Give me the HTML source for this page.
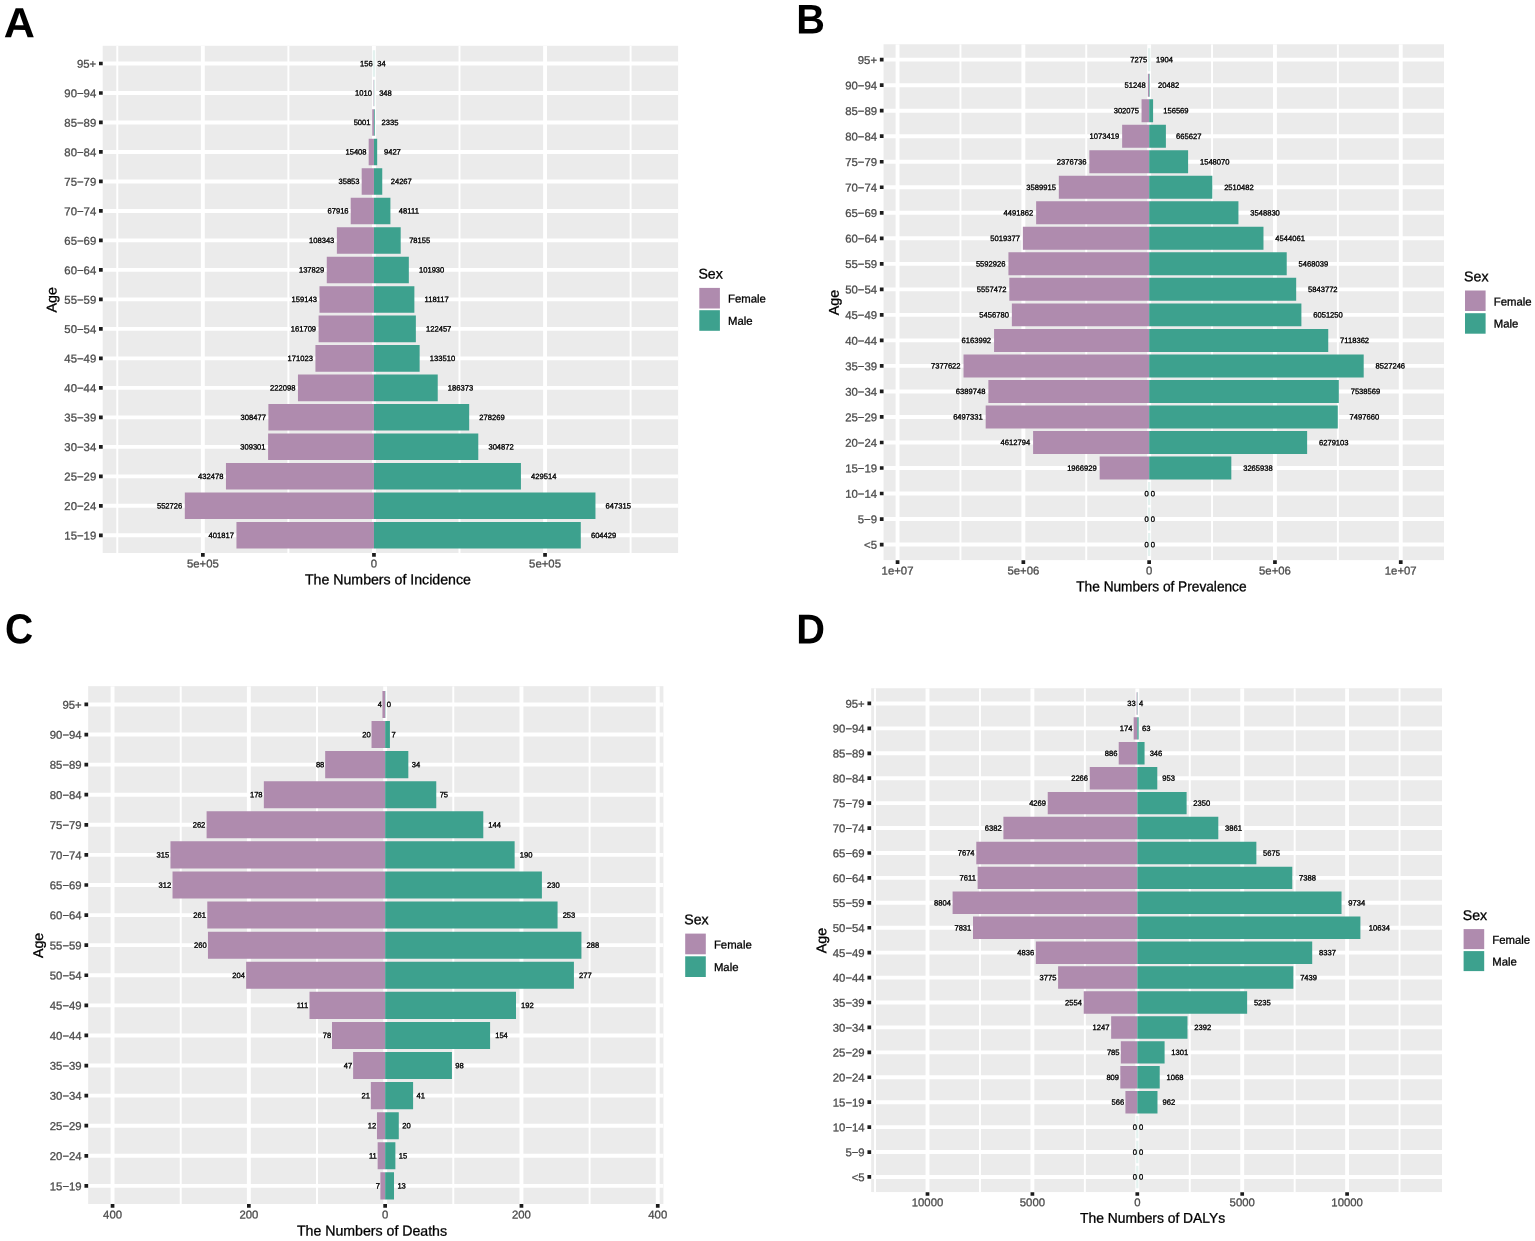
<!DOCTYPE html>
<html lang="en">
<head>
<meta charset="utf-8">
<title>Figure</title>
<style>
html,body{margin:0;padding:0;background:#fff}
body{width:1535px;height:1241px;overflow:hidden}
svg{display:block}
text{white-space:pre}
</style>
</head>
<body>
<svg width="1535" height="1241" viewBox="0 0 1535 1241" font-family="'Liberation Sans', sans-serif">
<rect width="1535" height="1241" fill="#ffffff"/>
<g id="panelA">
<clipPath id="clip0"><rect x="102.7" y="45.8" width="575.4" height="507.2"/></clipPath>
<rect x="102.7" y="45.8" width="575.4" height="507.2" fill="#EBEBEB"/>
<g clip-path="url(#clip0)">
<path d="M117.3 45.8V553M288.4 45.8V553M459.5 45.8V553M630.6 45.8V553" stroke="#fff" stroke-width="1.95" fill="none"/>
<path d="M202.85 45.8V553M373.95 45.8V553M545.05 45.8V553M102.7 63.493H678.1M102.7 92.981H678.1M102.7 122.47H678.1M102.7 151.958H678.1M102.7 181.447H678.1M102.7 210.935H678.1M102.7 240.423H678.1M102.7 269.912H678.1M102.7 299.4H678.1M102.7 328.888H678.1M102.7 358.377H678.1M102.7 387.865H678.1M102.7 417.353H678.1M102.7 446.842H678.1M102.7 476.33H678.1M102.7 505.819H678.1M102.7 535.307H678.1" stroke="#fff" stroke-width="3.9" fill="none"/>
<path d="M373.95 50.223v26.54" stroke="#3DA18E" stroke-opacity="0.14" stroke-width="2.3" fill="none"/>
<path d="M373.604 79.712h0.346v26.54h-0.346zM372.239 109.2h1.711v26.54h-1.711zM368.677 138.688h5.273v26.54h-5.273zM361.681 168.177h12.269v26.54h-12.269zM350.709 197.665h23.241v26.54h-23.241zM336.875 227.153h37.075v26.54h-37.075zM326.785 256.642h47.165v26.54h-47.165zM319.491 286.13h54.459v26.54h-54.459zM318.613 315.619h55.337v26.54h-55.337zM315.426 345.107h58.524v26.54h-58.524zM297.948 374.595h76.002v26.54h-76.002zM268.389 404.084h105.561v26.54h-105.561zM268.107 433.572h105.843v26.54h-105.843zM225.956 463.06h147.994v26.54h-147.994zM184.807 492.549h189.143v26.54h-189.143zM236.448 522.037h137.502v26.54h-137.502z" fill="#AF8BAE"/>
<path d="M373.95 79.712h0.25v26.54h-0.25zM373.95 109.2h0.799v26.54h-0.799zM373.95 138.688h3.226v26.54h-3.226zM373.95 168.177h8.304v26.54h-8.304zM373.95 197.665h16.464v26.54h-16.464zM373.95 227.153h26.745v26.54h-26.745zM373.95 256.642h34.88v26.54h-34.88zM373.95 286.13h40.42v26.54h-40.42zM373.95 315.619h41.905v26.54h-41.905zM373.95 345.107h45.687v26.54h-45.687zM373.95 374.595h63.777v26.54h-63.777zM373.95 404.084h95.224v26.54h-95.224zM373.95 433.572h104.327v26.54h-104.327zM373.95 463.06h146.98v26.54h-146.98zM373.95 492.549h221.511v26.54h-221.511zM373.95 522.037h206.836v26.54h-206.836z" fill="#3DA18E"/>
</g>
<g font-size="7.6" fill="#000" stroke="#000" stroke-width="0.35">
<text transform="translate(372.629 66.143) rotate(.03)" text-anchor="end">156</text>
<text transform="translate(377.342 66.143) rotate(.03)">34</text>
<text transform="translate(371.914 95.631) rotate(.03)" text-anchor="end">1010</text>
<text transform="translate(379.14 95.631) rotate(.03)">348</text>
<text transform="translate(370.548 125.12) rotate(.03)" text-anchor="end">5001</text>
<text transform="translate(381.51 125.12) rotate(.03)">2335</text>
<text transform="translate(366.565 154.608) rotate(.03)" text-anchor="end">15408</text>
<text transform="translate(383.937 154.608) rotate(.03)">9427</text>
<text transform="translate(359.568 184.097) rotate(.03)" text-anchor="end">35853</text>
<text transform="translate(390.705 184.097) rotate(.03)">24267</text>
<text transform="translate(348.596 213.585) rotate(.03)" text-anchor="end">67916</text>
<text transform="translate(398.865 213.585) rotate(.03)">48111</text>
<text transform="translate(334.34 243.073) rotate(.03)" text-anchor="end">108343</text>
<text transform="translate(409.146 243.073) rotate(.03)">78155</text>
<text transform="translate(324.25 272.562) rotate(.03)" text-anchor="end">137829</text>
<text transform="translate(418.972 272.562) rotate(.03)">101930</text>
<text transform="translate(316.956 302.05) rotate(.03)" text-anchor="end">159143</text>
<text transform="translate(424.511 302.05) rotate(.03)">118117</text>
<text transform="translate(316.078 331.538) rotate(.03)" text-anchor="end">161709</text>
<text transform="translate(425.996 331.538) rotate(.03)">122457</text>
<text transform="translate(312.891 361.027) rotate(.03)" text-anchor="end">171023</text>
<text transform="translate(429.779 361.027) rotate(.03)">133510</text>
<text transform="translate(295.413 390.515) rotate(.03)" text-anchor="end">222098</text>
<text transform="translate(447.868 390.515) rotate(.03)">186373</text>
<text transform="translate(265.854 420.003) rotate(.03)" text-anchor="end">308477</text>
<text transform="translate(479.315 420.003) rotate(.03)">278269</text>
<text transform="translate(265.572 449.492) rotate(.03)" text-anchor="end">309301</text>
<text transform="translate(488.419 449.492) rotate(.03)">304872</text>
<text transform="translate(223.421 478.98) rotate(.03)" text-anchor="end">432478</text>
<text transform="translate(531.071 478.98) rotate(.03)">429514</text>
<text transform="translate(182.272 508.469) rotate(.03)" text-anchor="end">552726</text>
<text transform="translate(605.603 508.469) rotate(.03)">647315</text>
<text transform="translate(233.913 537.957) rotate(.03)" text-anchor="end">401817</text>
<text transform="translate(590.927 537.957) rotate(.03)">604429</text>
</g>
<path d="M99 63.493h3.7M99 92.981h3.7M99 122.47h3.7M99 151.958h3.7M99 181.447h3.7M99 210.935h3.7M99 240.423h3.7M99 269.912h3.7M99 299.4h3.7M99 328.888h3.7M99 358.377h3.7M99 387.865h3.7M99 417.353h3.7M99 446.842h3.7M99 476.33h3.7M99 505.819h3.7M99 535.307h3.7M202.85 553.1v3.7M373.95 553.1v3.7M545.05 553.1v3.7" stroke="#1c1c1c" stroke-width="3.7" fill="none"/>
<g font-size="11.35" fill="#4D4D4D" stroke="#4D4D4D" stroke-width="0.3" text-anchor="end">
<text transform="translate(96.2 67.743) rotate(.03)">95+</text>
<text transform="translate(96.2 97.231) rotate(.03)">90−94</text>
<text transform="translate(96.2 126.72) rotate(.03)">85−89</text>
<text transform="translate(96.2 156.208) rotate(.03)">80−84</text>
<text transform="translate(96.2 185.697) rotate(.03)">75−79</text>
<text transform="translate(96.2 215.185) rotate(.03)">70−74</text>
<text transform="translate(96.2 244.673) rotate(.03)">65−69</text>
<text transform="translate(96.2 274.162) rotate(.03)">60−64</text>
<text transform="translate(96.2 303.65) rotate(.03)">55−59</text>
<text transform="translate(96.2 333.138) rotate(.03)">50−54</text>
<text transform="translate(96.2 362.627) rotate(.03)">45−49</text>
<text transform="translate(96.2 392.115) rotate(.03)">40−44</text>
<text transform="translate(96.2 421.603) rotate(.03)">35−39</text>
<text transform="translate(96.2 451.092) rotate(.03)">30−34</text>
<text transform="translate(96.2 480.58) rotate(.03)">25−29</text>
<text transform="translate(96.2 510.069) rotate(.03)">20−24</text>
<text transform="translate(96.2 539.557) rotate(.03)">15−19</text>
</g>
<g font-size="11.35" fill="#4D4D4D" stroke="#4D4D4D" stroke-width="0.3" text-anchor="middle">
<text transform="translate(202.85 567.6) rotate(.03)">5e+05</text>
<text transform="translate(373.95 567.6) rotate(.03)">0</text>
<text transform="translate(545.05 567.6) rotate(.03)">5e+05</text>
</g>
<g fill="#000" stroke="#000" stroke-width="0.3" font-size="14.15">
<text transform="translate(387.9 584.3) rotate(.03) scale(1 1)" text-anchor="middle">The Numbers of Incidence</text>
<text transform="translate(56.4 299.8) rotate(-89.97)" text-anchor="middle">Age</text>
<text transform="translate(698.4 278.5) rotate(.03)">Sex</text>
<text transform="translate(728 302.55) rotate(.03)" font-size="11.35">Female</text>
<text transform="translate(728 324.85) rotate(.03)" font-size="11.35">Male</text>
</g>
<rect x="699.3" y="287.9" width="20.6" height="20.6" fill="#AF8BAE"/>
<rect x="699.3" y="310.2" width="20.6" height="20.6" fill="#3DA18E"/>
<text transform="translate(3.87 37.26) rotate(.03) scale(1.0791 1.0516)" font-size="40" font-weight="bold" fill="#000">A</text>
</g>
<g id="panelB">
<clipPath id="clip1"><rect x="883.55" y="44.25" width="560.4" height="515.85"/></clipPath>
<rect x="883.55" y="44.25" width="560.4" height="515.85" fill="#EBEBEB"/>
<g clip-path="url(#clip1)">
<path d="M960.45 44.25V560.1M1086.25 44.25V560.1M1212.05 44.25V560.1M1337.85 44.25V560.1" stroke="#fff" stroke-width="1.95" fill="none"/>
<path d="M897.55 44.25V560.1M1023.35 44.25V560.1M1149.15 44.25V560.1M1274.95 44.25V560.1M1400.75 44.25V560.1M883.55 59.66H1443.95M883.55 85.181H1443.95M883.55 110.702H1443.95M883.55 136.223H1443.95M883.55 161.744H1443.95M883.55 187.265H1443.95M883.55 212.786H1443.95M883.55 238.307H1443.95M883.55 263.828H1443.95M883.55 289.349H1443.95M883.55 314.871H1443.95M883.55 340.392H1443.95M883.55 365.913H1443.95M883.55 391.434H1443.95M883.55 416.955H1443.95M883.55 442.476H1443.95M883.55 467.997H1443.95M883.55 493.518H1443.95M883.55 519.039H1443.95M883.55 544.56H1443.95" stroke="#fff" stroke-width="3.9" fill="none"/>
<path d="M1149.15 48.176v22.969M1149.15 482.033v22.969M1149.15 507.554v22.969M1149.15 533.076v22.969" stroke="#3DA18E" stroke-opacity="0.14" stroke-width="2.3" fill="none"/>
<path d="M1147.861 73.697h1.289v22.969h-1.289zM1141.55 99.218h7.6v22.969h-7.6zM1122.143 124.739h27.007v22.969h-27.007zM1089.351 150.26h59.799v22.969h-59.799zM1058.828 175.781h90.322v22.969h-90.322zM1036.135 201.302h113.015v22.969h-113.015zM1022.862 226.823h126.288v22.969h-126.288zM1008.432 252.344h140.718v22.969h-140.718zM1009.324 277.865h139.826v22.969h-139.826zM1011.857 303.386h137.293v22.969h-137.293zM994.064 328.907h155.086v22.969h-155.086zM963.529 354.428h185.621v22.969h-185.621zM988.384 379.949h160.766v22.969h-160.766zM985.677 405.47h163.473v22.969h-163.473zM1033.092 430.991h116.058v22.969h-116.058zM1099.662 456.512h49.488v22.969h-49.488z" fill="#AF8BAE"/>
<path d="M1149.15 73.697h0.515v22.969h-0.515zM1149.15 99.218h3.939v22.969h-3.939zM1149.15 124.739h16.747v22.969h-16.747zM1149.15 150.26h38.949v22.969h-38.949zM1149.15 175.781h63.164v22.969h-63.164zM1149.15 201.302h89.289v22.969h-89.289zM1149.15 226.823h114.329v22.969h-114.329zM1149.15 252.344h137.576v22.969h-137.576zM1149.15 277.865h147.029v22.969h-147.029zM1149.15 303.386h152.249v22.969h-152.249zM1149.15 328.907h179.098v22.969h-179.098zM1149.15 354.428h214.546v22.969h-214.546zM1149.15 379.949h189.67v22.969h-189.67zM1149.15 405.47h188.641v22.969h-188.641zM1149.15 430.991h157.982v22.969h-157.982zM1149.15 456.512h82.171v22.969h-82.171z" fill="#3DA18E"/>
</g>
<g font-size="7.6" fill="#000" stroke="#000" stroke-width="0.35">
<text transform="translate(1147.277 62.31) rotate(.03)" text-anchor="end">7275</text>
<text transform="translate(1155.959 62.31) rotate(.03)">1904</text>
<text transform="translate(1145.748 87.831) rotate(.03)" text-anchor="end">51248</text>
<text transform="translate(1158.117 87.831) rotate(.03)">20482</text>
<text transform="translate(1139.014 113.352) rotate(.03)" text-anchor="end">302075</text>
<text transform="translate(1163.231 113.352) rotate(.03)">156569</text>
<text transform="translate(1119.185 138.873) rotate(.03)" text-anchor="end">1073419</text>
<text transform="translate(1176.039 138.873) rotate(.03)">665627</text>
<text transform="translate(1086.393 164.394) rotate(.03)" text-anchor="end">2376736</text>
<text transform="translate(1199.931 164.394) rotate(.03)">1548070</text>
<text transform="translate(1055.87 189.915) rotate(.03)" text-anchor="end">3589915</text>
<text transform="translate(1224.145 189.915) rotate(.03)">2510482</text>
<text transform="translate(1033.177 215.436) rotate(.03)" text-anchor="end">4491862</text>
<text transform="translate(1250.27 215.436) rotate(.03)">3548830</text>
<text transform="translate(1019.905 240.957) rotate(.03)" text-anchor="end">5019377</text>
<text transform="translate(1275.31 240.957) rotate(.03)">4544061</text>
<text transform="translate(1005.474 266.478) rotate(.03)" text-anchor="end">5592926</text>
<text transform="translate(1298.558 266.478) rotate(.03)">5468039</text>
<text transform="translate(1006.366 291.999) rotate(.03)" text-anchor="end">5557472</text>
<text transform="translate(1308.011 291.999) rotate(.03)">5843772</text>
<text transform="translate(1008.899 317.521) rotate(.03)" text-anchor="end">5456780</text>
<text transform="translate(1313.231 317.521) rotate(.03)">6051250</text>
<text transform="translate(991.106 343.042) rotate(.03)" text-anchor="end">6163992</text>
<text transform="translate(1340.08 343.042) rotate(.03)">7118362</text>
<text transform="translate(960.571 368.563) rotate(.03)" text-anchor="end">7377622</text>
<text transform="translate(1375.527 368.563) rotate(.03)">8527246</text>
<text transform="translate(985.426 394.084) rotate(.03)" text-anchor="end">6389748</text>
<text transform="translate(1350.652 394.084) rotate(.03)">7538569</text>
<text transform="translate(982.719 419.605) rotate(.03)" text-anchor="end">6497331</text>
<text transform="translate(1349.623 419.605) rotate(.03)">7497660</text>
<text transform="translate(1030.134 445.126) rotate(.03)" text-anchor="end">4612794</text>
<text transform="translate(1318.964 445.126) rotate(.03)">6279103</text>
<text transform="translate(1096.704 470.647) rotate(.03)" text-anchor="end">1966929</text>
<text transform="translate(1243.153 470.647) rotate(.03)">3265938</text>
<text transform="translate(1148.727 496.168) rotate(.03)" text-anchor="end">0</text>
<text transform="translate(1150.84 496.168) rotate(.03)">0</text>
<text transform="translate(1148.727 521.689) rotate(.03)" text-anchor="end">0</text>
<text transform="translate(1150.84 521.689) rotate(.03)">0</text>
<text transform="translate(1148.727 547.21) rotate(.03)" text-anchor="end">0</text>
<text transform="translate(1150.84 547.21) rotate(.03)">0</text>
</g>
<path d="M879.85 59.66h3.7M879.85 85.181h3.7M879.85 110.702h3.7M879.85 136.223h3.7M879.85 161.744h3.7M879.85 187.265h3.7M879.85 212.786h3.7M879.85 238.307h3.7M879.85 263.828h3.7M879.85 289.349h3.7M879.85 314.871h3.7M879.85 340.392h3.7M879.85 365.913h3.7M879.85 391.434h3.7M879.85 416.955h3.7M879.85 442.476h3.7M879.85 467.997h3.7M879.85 493.518h3.7M879.85 519.039h3.7M879.85 544.56h3.7M897.55 560.2v3.7M1023.35 560.2v3.7M1149.15 560.2v3.7M1274.95 560.2v3.7M1400.75 560.2v3.7" stroke="#1c1c1c" stroke-width="3.7" fill="none"/>
<g font-size="11.35" fill="#4D4D4D" stroke="#4D4D4D" stroke-width="0.3" text-anchor="end">
<text transform="translate(877.05 63.91) rotate(.03)">95+</text>
<text transform="translate(877.05 89.431) rotate(.03)">90−94</text>
<text transform="translate(877.05 114.952) rotate(.03)">85−89</text>
<text transform="translate(877.05 140.473) rotate(.03)">80−84</text>
<text transform="translate(877.05 165.994) rotate(.03)">75−79</text>
<text transform="translate(877.05 191.515) rotate(.03)">70−74</text>
<text transform="translate(877.05 217.036) rotate(.03)">65−69</text>
<text transform="translate(877.05 242.557) rotate(.03)">60−64</text>
<text transform="translate(877.05 268.078) rotate(.03)">55−59</text>
<text transform="translate(877.05 293.599) rotate(.03)">50−54</text>
<text transform="translate(877.05 319.121) rotate(.03)">45−49</text>
<text transform="translate(877.05 344.642) rotate(.03)">40−44</text>
<text transform="translate(877.05 370.163) rotate(.03)">35−39</text>
<text transform="translate(877.05 395.684) rotate(.03)">30−34</text>
<text transform="translate(877.05 421.205) rotate(.03)">25−29</text>
<text transform="translate(877.05 446.726) rotate(.03)">20−24</text>
<text transform="translate(877.05 472.247) rotate(.03)">15−19</text>
<text transform="translate(877.05 497.768) rotate(.03)">10−14</text>
<text transform="translate(877.05 523.289) rotate(.03)">5−9</text>
<text transform="translate(877.05 548.81) rotate(.03)">&lt;5</text>
</g>
<g font-size="11.35" fill="#4D4D4D" stroke="#4D4D4D" stroke-width="0.3" text-anchor="middle">
<text transform="translate(897.55 574.4) rotate(.03)">1e+07</text>
<text transform="translate(1023.35 574.4) rotate(.03)">5e+06</text>
<text transform="translate(1149.15 574.4) rotate(.03)">0</text>
<text transform="translate(1274.95 574.4) rotate(.03)">5e+06</text>
<text transform="translate(1400.75 574.4) rotate(.03)">1e+07</text>
</g>
<g fill="#000" stroke="#000" stroke-width="0.3" font-size="14.15">
<text transform="translate(1161.4 591.2) rotate(.03) scale(0.968 1)" text-anchor="middle">The Numbers of Prevalence</text>
<text transform="translate(838.8 302.575) rotate(-89.97)" text-anchor="middle">Age</text>
<text transform="translate(1464.1 281.3) rotate(.03)">Sex</text>
<text transform="translate(1493.7 305.4) rotate(.03)" font-size="11.35">Female</text>
<text transform="translate(1493.7 327.6) rotate(.03)" font-size="11.35">Male</text>
</g>
<rect x="1465" y="290.5" width="20.6" height="20.5" fill="#AF8BAE"/>
<rect x="1465" y="313.2" width="20.6" height="20.5" fill="#3DA18E"/>
<text transform="translate(796.32 33.62) rotate(.03) scale(0.9918 1.0378)" font-size="40" font-weight="bold" fill="#000">B</text>
</g>
<g id="panelC">
<clipPath id="clip2"><rect x="88.15" y="686.15" width="575.25" height="517.85"/></clipPath>
<rect x="88.15" y="686.15" width="575.25" height="517.85" fill="#EBEBEB"/>
<g clip-path="url(#clip2)">
<path d="M180.7 686.15V1204M317 686.15V1204M453.3 686.15V1204M589.6 686.15V1204" stroke="#fff" stroke-width="1.95" fill="none"/>
<path d="M112.55 686.15V1204M248.85 686.15V1204M385.15 686.15V1204M521.45 686.15V1204M657.75 686.15V1204M88.15 704.44H663.4M88.15 734.531H663.4M88.15 764.623H663.4M88.15 794.714H663.4M88.15 824.805H663.4M88.15 854.896H663.4M88.15 884.988H663.4M88.15 915.079H663.4M88.15 945.17H663.4M88.15 975.261H663.4M88.15 1005.353H663.4M88.15 1035.444H663.4M88.15 1065.535H663.4M88.15 1095.626H663.4M88.15 1125.718H663.4M88.15 1155.809H663.4M88.15 1185.9H663.4" stroke="#fff" stroke-width="3.9" fill="none"/>
<path d="M382.424 690.899h2.726v27.082h-2.726zM371.52 720.99h13.63v27.082h-13.63zM325.178 751.081h59.972v27.082h-59.972zM263.843 781.173h121.307v27.082h-121.307zM206.597 811.264h178.553v27.082h-178.553zM170.477 841.355h214.673v27.082h-214.673zM172.522 871.446h212.628v27.082h-212.628zM207.278 901.538h177.872v27.082h-177.872zM207.96 931.629h177.19v27.082h-177.19zM246.124 961.72h139.026v27.082h-139.026zM309.503 991.811h75.647v27.082h-75.647zM331.993 1021.903h53.157v27.082h-53.157zM353.119 1051.994h32.031v27.082h-32.031zM370.838 1082.085h14.312v27.082h-14.312zM376.972 1112.176h8.178v27.082h-8.178zM377.653 1142.268h7.497v27.082h-7.497zM380.379 1172.359h4.771v27.082h-4.771z" fill="#AF8BAE"/>
<path d="M385.15 690.899h0.25v27.082h-0.25zM385.15 720.99h4.771v27.082h-4.771zM385.15 751.081h23.171v27.082h-23.171zM385.15 781.173h51.113v27.082h-51.113zM385.15 811.264h98.136v27.082h-98.136zM385.15 841.355h129.485v27.082h-129.485zM385.15 871.446h156.745v27.082h-156.745zM385.15 901.538h172.42v27.082h-172.42zM385.15 931.629h196.272v27.082h-196.272zM385.15 961.72h188.776v27.082h-188.776zM385.15 991.811h130.848v27.082h-130.848zM385.15 1021.903h104.951v27.082h-104.951zM385.15 1051.994h66.787v27.082h-66.787zM385.15 1082.085h27.942v27.082h-27.942zM385.15 1112.176h13.63v27.082h-13.63zM385.15 1142.268h10.223v27.082h-10.223zM385.15 1172.359h8.86v27.082h-8.86z" fill="#3DA18E"/>
</g>
<g font-size="7.6" fill="#000" stroke="#000" stroke-width="0.35">
<text transform="translate(382.001 707.09) rotate(.03)" text-anchor="end">4</text>
<text transform="translate(386.84 707.09) rotate(.03)">0</text>
<text transform="translate(370.675 737.181) rotate(.03)" text-anchor="end">20</text>
<text transform="translate(391.611 737.181) rotate(.03)">7</text>
<text transform="translate(324.333 767.273) rotate(.03)" text-anchor="end">88</text>
<text transform="translate(411.701 767.273) rotate(.03)">34</text>
<text transform="translate(262.575 797.364) rotate(.03)" text-anchor="end">178</text>
<text transform="translate(439.643 797.364) rotate(.03)">75</text>
<text transform="translate(205.329 827.455) rotate(.03)" text-anchor="end">262</text>
<text transform="translate(488.357 827.455) rotate(.03)">144</text>
<text transform="translate(169.21 857.546) rotate(.03)" text-anchor="end">315</text>
<text transform="translate(519.706 857.546) rotate(.03)">190</text>
<text transform="translate(171.254 887.638) rotate(.03)" text-anchor="end">312</text>
<text transform="translate(546.966 887.638) rotate(.03)">230</text>
<text transform="translate(206.011 917.729) rotate(.03)" text-anchor="end">261</text>
<text transform="translate(562.64 917.729) rotate(.03)">253</text>
<text transform="translate(206.692 947.82) rotate(.03)" text-anchor="end">260</text>
<text transform="translate(586.493 947.82) rotate(.03)">288</text>
<text transform="translate(244.856 977.911) rotate(.03)" text-anchor="end">204</text>
<text transform="translate(578.996 977.911) rotate(.03)">277</text>
<text transform="translate(308.236 1008.003) rotate(.03)" text-anchor="end">111</text>
<text transform="translate(521.069 1008.003) rotate(.03)">192</text>
<text transform="translate(331.148 1038.094) rotate(.03)" text-anchor="end">78</text>
<text transform="translate(495.172 1038.094) rotate(.03)">154</text>
<text transform="translate(352.274 1068.185) rotate(.03)" text-anchor="end">47</text>
<text transform="translate(455.317 1068.185) rotate(.03)">98</text>
<text transform="translate(369.993 1098.276) rotate(.03)" text-anchor="end">21</text>
<text transform="translate(416.472 1098.276) rotate(.03)">41</text>
<text transform="translate(376.127 1128.368) rotate(.03)" text-anchor="end">12</text>
<text transform="translate(402.16 1128.368) rotate(.03)">20</text>
<text transform="translate(376.808 1158.459) rotate(.03)" text-anchor="end">11</text>
<text transform="translate(398.753 1158.459) rotate(.03)">15</text>
<text transform="translate(379.957 1188.55) rotate(.03)" text-anchor="end">7</text>
<text transform="translate(397.39 1188.55) rotate(.03)">13</text>
</g>
<path d="M84.45 704.44h3.7M84.45 734.531h3.7M84.45 764.623h3.7M84.45 794.714h3.7M84.45 824.805h3.7M84.45 854.896h3.7M84.45 884.988h3.7M84.45 915.079h3.7M84.45 945.17h3.7M84.45 975.261h3.7M84.45 1005.353h3.7M84.45 1035.444h3.7M84.45 1065.535h3.7M84.45 1095.626h3.7M84.45 1125.718h3.7M84.45 1155.809h3.7M84.45 1185.9h3.7M112.55 1204.1v3.7M248.85 1204.1v3.7M385.15 1204.1v3.7M521.45 1204.1v3.7M657.75 1204.1v3.7" stroke="#1c1c1c" stroke-width="3.7" fill="none"/>
<g font-size="11.35" fill="#4D4D4D" stroke="#4D4D4D" stroke-width="0.3" text-anchor="end">
<text transform="translate(81.65 708.69) rotate(.03)">95+</text>
<text transform="translate(81.65 738.781) rotate(.03)">90−94</text>
<text transform="translate(81.65 768.873) rotate(.03)">85−89</text>
<text transform="translate(81.65 798.964) rotate(.03)">80−84</text>
<text transform="translate(81.65 829.055) rotate(.03)">75−79</text>
<text transform="translate(81.65 859.146) rotate(.03)">70−74</text>
<text transform="translate(81.65 889.238) rotate(.03)">65−69</text>
<text transform="translate(81.65 919.329) rotate(.03)">60−64</text>
<text transform="translate(81.65 949.42) rotate(.03)">55−59</text>
<text transform="translate(81.65 979.511) rotate(.03)">50−54</text>
<text transform="translate(81.65 1009.603) rotate(.03)">45−49</text>
<text transform="translate(81.65 1039.694) rotate(.03)">40−44</text>
<text transform="translate(81.65 1069.785) rotate(.03)">35−39</text>
<text transform="translate(81.65 1099.876) rotate(.03)">30−34</text>
<text transform="translate(81.65 1129.968) rotate(.03)">25−29</text>
<text transform="translate(81.65 1160.059) rotate(.03)">20−24</text>
<text transform="translate(81.65 1190.15) rotate(.03)">15−19</text>
</g>
<g font-size="11.35" fill="#4D4D4D" stroke="#4D4D4D" stroke-width="0.3" text-anchor="middle">
<text transform="translate(112.55 1218.6) rotate(.03)">400</text>
<text transform="translate(248.85 1218.6) rotate(.03)">200</text>
<text transform="translate(385.15 1218.6) rotate(.03)">0</text>
<text transform="translate(521.45 1218.6) rotate(.03)">200</text>
<text transform="translate(657.75 1218.6) rotate(.03)">400</text>
</g>
<g fill="#000" stroke="#000" stroke-width="0.3" font-size="14.15">
<text transform="translate(372 1235.6) rotate(.03) scale(1 1)" text-anchor="middle">The Numbers of Deaths</text>
<text transform="translate(43 945.475) rotate(-89.97)" text-anchor="middle">Age</text>
<text transform="translate(684.3 924.2) rotate(.03)">Sex</text>
<text transform="translate(713.9 948.5) rotate(.03)" font-size="11.35">Female</text>
<text transform="translate(713.9 970.9) rotate(.03)" font-size="11.35">Male</text>
</g>
<rect x="685.2" y="933.6" width="20.6" height="20.7" fill="#AF8BAE"/>
<rect x="685.2" y="956.3" width="20.6" height="20.7" fill="#3DA18E"/>
<text transform="translate(4.95 643.35) rotate(.03) scale(0.9748 1.0495)" font-size="40" font-weight="bold" fill="#000">C</text>
</g>
<g id="panelD">
<clipPath id="clip3"><rect x="871.15" y="688.25" width="570.85" height="503.8"/></clipPath>
<rect x="871.15" y="688.25" width="570.85" height="503.8" fill="#EBEBEB"/>
<g clip-path="url(#clip3)">
<path d="M875.05 688.25V1192.05M979.95 688.25V1192.05M1084.85 688.25V1192.05M1189.75 688.25V1192.05M1294.65 688.25V1192.05M1399.55 688.25V1192.05" stroke="#fff" stroke-width="1.95" fill="none"/>
<path d="M927.5 688.25V1192.05M1032.4 688.25V1192.05M1137.3 688.25V1192.05M1242.2 688.25V1192.05M1347.1 688.25V1192.05M871.15 703.45H1442M871.15 728.371H1442M871.15 753.292H1442M871.15 778.213H1442M871.15 803.134H1442M871.15 828.055H1442M871.15 852.976H1442M871.15 877.897H1442M871.15 902.818H1442M871.15 927.739H1442M871.15 952.661H1442M871.15 977.582H1442M871.15 1002.503H1442M871.15 1027.424H1442M871.15 1052.345H1442M871.15 1077.266H1442M871.15 1102.187H1442M871.15 1127.108H1442M871.15 1152.029H1442M871.15 1176.95H1442" stroke="#fff" stroke-width="3.9" fill="none"/>
<path d="M1137.3 1115.893v22.429M1137.3 1140.814v22.429M1137.3 1165.736v22.429" stroke="#3DA18E" stroke-opacity="0.14" stroke-width="2.3" fill="none"/>
<path d="M1136.608 692.236h0.692v22.429h-0.692zM1133.649 717.157h3.651v22.429h-3.651zM1118.712 742.078h18.588v22.429h-18.588zM1089.759 766.999h47.541v22.429h-47.541zM1047.736 791.92h89.564v22.429h-89.564zM1003.406 816.841h133.894v22.429h-133.894zM976.299 841.762h161.001v22.429h-161.001zM977.621 866.683h159.679v22.429h-159.679zM952.592 891.604h184.708v22.429h-184.708zM973.006 916.525h164.294v22.429h-164.294zM1035.841 941.446h101.459v22.429h-101.459zM1058.101 966.367h79.2v22.429h-79.2zM1083.717 991.288h53.583v22.429h-53.583zM1111.138 1016.209h26.162v22.429h-26.162zM1120.831 1041.13h16.469v22.429h-16.469zM1120.327 1066.051h16.973v22.429h-16.973zM1125.425 1090.972h11.875v22.429h-11.875z" fill="#AF8BAE"/>
<path d="M1137.3 692.236h0.25v22.429h-0.25zM1137.3 717.157h1.322v22.429h-1.322zM1137.3 742.078h7.259v22.429h-7.259zM1137.3 766.999h19.994v22.429h-19.994zM1137.3 791.92h49.303v22.429h-49.303zM1137.3 816.841h81.004v22.429h-81.004zM1137.3 841.762h119.062v22.429h-119.062zM1137.3 866.683h155v22.429h-155zM1137.3 891.604h204.219v22.429h-204.219zM1137.3 916.525h223.101v22.429h-223.101zM1137.3 941.446h174.91v22.429h-174.91zM1137.3 966.367h156.07v22.429h-156.07zM1137.3 991.288h109.83v22.429h-109.83zM1137.3 1016.209h50.184v22.429h-50.184zM1137.3 1041.13h27.295v22.429h-27.295zM1137.3 1066.051h22.407v22.429h-22.407zM1137.3 1090.972h20.183v22.429h-20.183z" fill="#3DA18E"/>
</g>
<g font-size="7.6" fill="#000" stroke="#000" stroke-width="0.35">
<text transform="translate(1135.763 706.1) rotate(.03)" text-anchor="end">33</text>
<text transform="translate(1139.074 706.1) rotate(.03)">4</text>
<text transform="translate(1132.382 731.021) rotate(.03)" text-anchor="end">174</text>
<text transform="translate(1142.002 731.021) rotate(.03)">63</text>
<text transform="translate(1117.444 755.942) rotate(.03)" text-anchor="end">886</text>
<text transform="translate(1149.63 755.942) rotate(.03)">346</text>
<text transform="translate(1088.069 780.863) rotate(.03)" text-anchor="end">2266</text>
<text transform="translate(1162.365 780.863) rotate(.03)">953</text>
<text transform="translate(1046.046 805.784) rotate(.03)" text-anchor="end">4269</text>
<text transform="translate(1193.364 805.784) rotate(.03)">2350</text>
<text transform="translate(1001.715 830.705) rotate(.03)" text-anchor="end">6382</text>
<text transform="translate(1225.065 830.705) rotate(.03)">3861</text>
<text transform="translate(974.609 855.626) rotate(.03)" text-anchor="end">7674</text>
<text transform="translate(1263.122 855.626) rotate(.03)">5675</text>
<text transform="translate(975.931 880.547) rotate(.03)" text-anchor="end">7611</text>
<text transform="translate(1299.061 880.547) rotate(.03)">7388</text>
<text transform="translate(950.902 905.468) rotate(.03)" text-anchor="end">8804</text>
<text transform="translate(1348.28 905.468) rotate(.03)">9734</text>
<text transform="translate(971.315 930.389) rotate(.03)" text-anchor="end">7831</text>
<text transform="translate(1368.853 930.389) rotate(.03)">10634</text>
<text transform="translate(1034.15 955.311) rotate(.03)" text-anchor="end">4836</text>
<text transform="translate(1318.971 955.311) rotate(.03)">8337</text>
<text transform="translate(1056.41 980.232) rotate(.03)" text-anchor="end">3775</text>
<text transform="translate(1300.131 980.232) rotate(.03)">7439</text>
<text transform="translate(1082.027 1005.153) rotate(.03)" text-anchor="end">2554</text>
<text transform="translate(1253.891 1005.153) rotate(.03)">5235</text>
<text transform="translate(1109.448 1030.074) rotate(.03)" text-anchor="end">1247</text>
<text transform="translate(1194.245 1030.074) rotate(.03)">2392</text>
<text transform="translate(1119.563 1054.995) rotate(.03)" text-anchor="end">785</text>
<text transform="translate(1171.356 1054.995) rotate(.03)">1301</text>
<text transform="translate(1119.06 1079.916) rotate(.03)" text-anchor="end">809</text>
<text transform="translate(1166.468 1079.916) rotate(.03)">1068</text>
<text transform="translate(1124.158 1104.837) rotate(.03)" text-anchor="end">566</text>
<text transform="translate(1162.553 1104.837) rotate(.03)">962</text>
<text transform="translate(1136.877 1129.758) rotate(.03)" text-anchor="end">0</text>
<text transform="translate(1138.99 1129.758) rotate(.03)">0</text>
<text transform="translate(1136.877 1154.679) rotate(.03)" text-anchor="end">0</text>
<text transform="translate(1138.99 1154.679) rotate(.03)">0</text>
<text transform="translate(1136.877 1179.6) rotate(.03)" text-anchor="end">0</text>
<text transform="translate(1138.99 1179.6) rotate(.03)">0</text>
</g>
<path d="M867.45 703.45h3.7M867.45 728.371h3.7M867.45 753.292h3.7M867.45 778.213h3.7M867.45 803.134h3.7M867.45 828.055h3.7M867.45 852.976h3.7M867.45 877.897h3.7M867.45 902.818h3.7M867.45 927.739h3.7M867.45 952.661h3.7M867.45 977.582h3.7M867.45 1002.503h3.7M867.45 1027.424h3.7M867.45 1052.345h3.7M867.45 1077.266h3.7M867.45 1102.187h3.7M867.45 1127.108h3.7M867.45 1152.029h3.7M867.45 1176.95h3.7M927.5 1192.15v3.7M1032.4 1192.15v3.7M1137.3 1192.15v3.7M1242.2 1192.15v3.7M1347.1 1192.15v3.7" stroke="#1c1c1c" stroke-width="3.7" fill="none"/>
<g font-size="11.35" fill="#4D4D4D" stroke="#4D4D4D" stroke-width="0.3" text-anchor="end">
<text transform="translate(864.65 707.7) rotate(.03)">95+</text>
<text transform="translate(864.65 732.621) rotate(.03)">90−94</text>
<text transform="translate(864.65 757.542) rotate(.03)">85−89</text>
<text transform="translate(864.65 782.463) rotate(.03)">80−84</text>
<text transform="translate(864.65 807.384) rotate(.03)">75−79</text>
<text transform="translate(864.65 832.305) rotate(.03)">70−74</text>
<text transform="translate(864.65 857.226) rotate(.03)">65−69</text>
<text transform="translate(864.65 882.147) rotate(.03)">60−64</text>
<text transform="translate(864.65 907.068) rotate(.03)">55−59</text>
<text transform="translate(864.65 931.989) rotate(.03)">50−54</text>
<text transform="translate(864.65 956.911) rotate(.03)">45−49</text>
<text transform="translate(864.65 981.832) rotate(.03)">40−44</text>
<text transform="translate(864.65 1006.753) rotate(.03)">35−39</text>
<text transform="translate(864.65 1031.674) rotate(.03)">30−34</text>
<text transform="translate(864.65 1056.595) rotate(.03)">25−29</text>
<text transform="translate(864.65 1081.516) rotate(.03)">20−24</text>
<text transform="translate(864.65 1106.437) rotate(.03)">15−19</text>
<text transform="translate(864.65 1131.358) rotate(.03)">10−14</text>
<text transform="translate(864.65 1156.279) rotate(.03)">5−9</text>
<text transform="translate(864.65 1181.2) rotate(.03)">&lt;5</text>
</g>
<g font-size="11.35" fill="#4D4D4D" stroke="#4D4D4D" stroke-width="0.3" text-anchor="middle">
<text transform="translate(927.5 1206.3) rotate(.03)">10000</text>
<text transform="translate(1032.4 1206.3) rotate(.03)">5000</text>
<text transform="translate(1137.3 1206.3) rotate(.03)">0</text>
<text transform="translate(1242.2 1206.3) rotate(.03)">5000</text>
<text transform="translate(1347.1 1206.3) rotate(.03)">10000</text>
</g>
<g fill="#000" stroke="#000" stroke-width="0.3" font-size="14.15">
<text transform="translate(1152.6 1222.7) rotate(.03) scale(0.978 1)" text-anchor="middle">The Numbers of DALYs</text>
<text transform="translate(826.3 940.55) rotate(-89.97)" text-anchor="middle">Age</text>
<text transform="translate(1462.7 919.9) rotate(.03)">Sex</text>
<text transform="translate(1492.3 943.8) rotate(.03)" font-size="11.35">Female</text>
<text transform="translate(1492.3 965.4) rotate(.03)" font-size="11.35">Male</text>
</g>
<rect x="1463.6" y="929.1" width="20.6" height="20" fill="#AF8BAE"/>
<rect x="1463.6" y="951.1" width="20.6" height="20" fill="#3DA18E"/>
<text transform="translate(796.17 643.51) rotate(.03) scale(0.9955 1.0458)" font-size="40" font-weight="bold" fill="#000">D</text>
</g>
</svg>
</body>
</html>
